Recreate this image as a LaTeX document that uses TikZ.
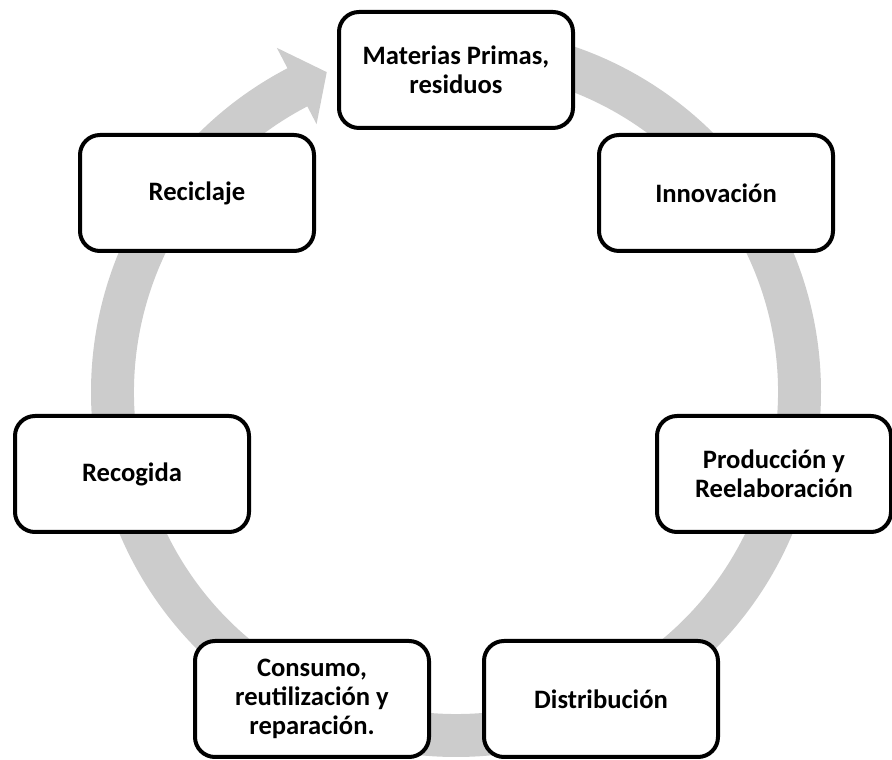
\documentclass[tikz,border=0pt]{standalone}
\usepackage{fontspec}
\setmainfont{Carlito}

\begin{document}
\begin{tikzpicture}[x=1pt,y=1pt,
        caja/.style={draw,line width=4pt,rounded corners=20pt,fill=white,minimum width=234pt,minimum height=116pt,align=center,font=\fontsize{26.6}{28.8}\selectfont\bfseries}]
        \useasboundingbox(0,0)rectangle(892,760);
        \begin{scope}[shift={(456,368)}]
        \fill[gray!40](90:365)arc[start angle=90,end angle=-242.5,radius=365]--(-242.5:388)--(-248:345)--(-242.5:302)--(-242.5:322)arc[start angle=-242.5,end angle=90,radius=322]--cycle;
        \end{scope}

        \node[caja](mat)at(456,690){Materias Primas,\\residuos};
        \node[caja](inn)at(716,567){Innovación};
        \node[caja](pro)at(774,286){Producción y\\Reelaboración};
        \node[caja](dis)at(601,61){Distribución};
        \node[caja](con)at(312,61){Consumo,\\reutilización y\\reparación.};
        \node[caja](rec)at(132,286){Recogida};
        \node[caja](reci)at(197,567){Reciclaje};
\end{tikzpicture}
\end{document}
